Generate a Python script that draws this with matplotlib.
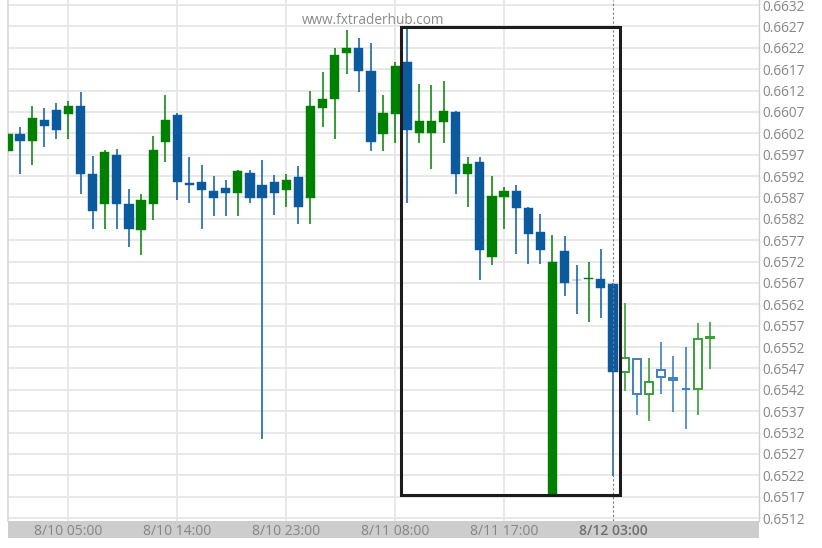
import matplotlib
matplotlib.use("Agg")
import matplotlib.pyplot as plt
from matplotlib.patches import Rectangle
import numpy as np

# ---- data (hourly candles) ----
opens = [0.65978, 0.66019, 0.66003, 0.66052, 0.66074, 0.66066, 0.66084, 0.65925, 0.65854, 0.65970,
         0.65854, 0.65793, 0.65854, 0.65999, 0.66062, 0.65903, 0.65905, 0.65885, 0.65893, 0.65881,
         0.65928, 0.65899, 0.65906, 0.65887, 0.65918, 0.65868, 0.66079, 0.66100, 0.66208, 0.66219,
         0.66165, 0.66018, 0.66066, 0.66186, 0.66020, 0.66020, 0.66047, 0.66069, 0.65925, 0.65954,
         0.65731, 0.65872, 0.65884, 0.65845, 0.65790, 0.65176, 0.65744, 0.65678, 0.65680, 0.65679,
         0.65668, 0.65462, 0.65492, 0.65411, 0.65466, 0.65448, 0.65422, 0.65422, 0.65542]
highs = [0.66022, 0.66035, 0.66083, 0.66080, 0.66090, 0.66096, 0.66117, 0.65968, 0.65980, 0.65983,
         0.65889, 0.65879, 0.66014, 0.66110, 0.66068, 0.65964, 0.65946, 0.65920, 0.65911, 0.65934,
         0.65934, 0.65957, 0.65923, 0.65924, 0.65943, 0.66120, 0.66163, 0.66220, 0.66262, 0.66242,
         0.66232, 0.66110, 0.66188, 0.66268, 0.66136, 0.66132, 0.66143, 0.66072, 0.65964, 0.65964,
         0.65920, 0.65895, 0.65899, 0.65847, 0.65831, 0.65783, 0.65779, 0.65712, 0.65720, 0.65749,
         0.65670, 0.65623, 0.65492, 0.65495, 0.65531, 0.65498, 0.65520, 0.65576, 0.65578]
lows = [0.65975, 0.65926, 0.65946, 0.65988, 0.66007, 0.66007, 0.65878, 0.65797, 0.65797, 0.65797,
        0.65755, 0.65735, 0.65817, 0.65954, 0.65865, 0.65856, 0.65797, 0.65826, 0.65826, 0.65826,
        0.65856, 0.65305, 0.65830, 0.65847, 0.65807, 0.65807, 0.66035, 0.66007, 0.66159, 0.66117,
        0.65978, 0.65978, 0.65997, 0.65856, 0.65997, 0.65937, 0.65997, 0.65878, 0.65847, 0.65677,
        0.65711, 0.65797, 0.65738, 0.65715, 0.65715, 0.65174, 0.65639, 0.65597, 0.65578, 0.65587,
        0.65219, 0.65418, 0.65362, 0.65348, 0.65410, 0.65369, 0.65328, 0.65362, 0.65469]
closes = [0.66019, 0.66003, 0.66055, 0.66037, 0.66029, 0.66083, 0.65925, 0.65839, 0.65977, 0.65854,
          0.65797, 0.65864, 0.65980, 0.66052, 0.65906, 0.65900, 0.65887, 0.65868, 0.65881, 0.65932,
          0.65868, 0.65868, 0.65881, 0.65912, 0.65848, 0.66084, 0.66100, 0.66204, 0.66219, 0.66167,
          0.65999, 0.66068, 0.66178, 0.66028, 0.66049, 0.66049, 0.66072, 0.65925, 0.65948, 0.65747,
          0.65873, 0.65884, 0.65845, 0.65784, 0.65747, 0.65720, 0.65669, 0.65676, 0.65682, 0.65657,
          0.65462, 0.65494, 0.65410, 0.65438, 0.65450, 0.65444, 0.65421, 0.65540, 0.65544]

tick_positions = [5, 14, 23, 32, 41, 50]
tick_labels = ["8/10 05:00", "8/10 14:00", "8/10 23:00", "8/11 08:00", "8/11 17:00", "8/12 03:00"]
y_ticks = [round(0.6512 + 0.0005 * k, 4) for k in range(25)]

pattern_start, pattern_end = 33, 50   # highlighted range
last_closed = 50                      # candles after this are drawn hollow

watermark = "www.fxtraderhub.com"

# ---- style ----
GREEN = "#008000"
BLUE = "#0b5a9e"
GREEN_H = "#3a9e3a"
BLUE_H = "#3f80c0"
GRID = "#e6e6e6"
TXT = "#858585"
FONT = ["Open Sans", "DejaVu Sans"]

W, H = 822, 548
fig = plt.figure(figsize=(W / 100, H / 100), dpi=100)
left_px, right_px, top_px, bottom_px = 8.3, 759.0, 0.0, 521.0
ax = fig.add_axes([left_px / W, 1 - bottom_px / H, (right_px - left_px) / W, (bottom_px - top_px) / H])
ax.set_zorder(2)
ax.patch.set_alpha(0)

# gray x-axis band (behind the axes so tick labels stay visible)
band = Rectangle((left_px / W, 1 - 538 / H), (right_px - left_px) / W, 17 / H,
                 transform=fig.transFigure, facecolor="#cdcdcd", edgecolor="none", zorder=1)
fig.patches.append(band)

ax.set_xlim(0.03, 62.07)
ax.set_ylim(0.65113, 0.66332)

for y in y_ticks:
    ax.axhline(y, color=GRID, lw=1.3, zorder=0)
for x in tick_positions[:-1]:
    ax.axvline(x, color=GRID, lw=1.3, zorder=0)

bw = 0.76
for i, (o, h, l, c) in enumerate(zip(opens, highs, lows, closes)):
    up = c >= o
    lo_b, hi_b = min(o, c), max(o, c)
    hollow = i > last_closed
    if hollow:
        col = GREEN_H if up else BLUE_H
        ax.plot([i, i], [l, lo_b], color=col, lw=1.2, zorder=2, solid_capstyle="butt")
        ax.plot([i, i], [hi_b, h], color=col, lw=1.2, zorder=2, solid_capstyle="butt")
        ax.add_patch(Rectangle((i - bw / 2 + 0.05, lo_b), bw - 0.1, max(hi_b - lo_b, 0.000001),
                               facecolor="white", edgecolor=col, lw=1.4, zorder=3))
    else:
        col = GREEN if up else BLUE
        ax.plot([i, i], [l, h], color=col, lw=1.1, zorder=2, solid_capstyle="butt")
        ax.add_patch(Rectangle((i - bw / 2, lo_b), bw, max(hi_b - lo_b, 0.000012),
                               facecolor=col, edgecolor=col, lw=0.3, zorder=3))

# highlighted pattern box
box_top = max(highs[pattern_start:pattern_end + 1])
box_bot = min(lows[pattern_start:pattern_end + 1])
ax.add_patch(Rectangle((pattern_start - 0.5, box_bot), pattern_end - pattern_start + 1.05, box_top - box_bot,
                       facecolor="none", edgecolor="#1c1c1c", lw=2.2, zorder=5))
ax.axvline(last_closed, color="#7a7a7a", lw=0.8, ls=(0, (2, 2)), zorder=4)

# axes styling
for s in ["top", "bottom"]:
    ax.spines[s].set_visible(False)
ax.spines["left"].set_color("#d8d8d8")
ax.spines["right"].set_color("#d0d0d0")
ax.spines["left"].set_linewidth(1.2)
ax.spines["right"].set_linewidth(1.0)

ax.yaxis.tick_right()
ax.set_yticks(y_ticks)
ax.set_yticklabels([f"{v:.4f}" for v in y_ticks])
ax.set_xticks(tick_positions)
ax.set_xticklabels(tick_labels)
ax.tick_params(axis="y", length=0, pad=2.5, labelsize=9.8, labelcolor=TXT)
ax.tick_params(axis="x", length=0, pad=2.0, labelsize=10.0, labelcolor=TXT)
for lab in ax.get_xticklabels() + ax.get_yticklabels():
    lab.set_family(FONT)
last_lab = ax.get_xticklabels()[-1]
last_lab.set_fontweight("semibold")
last_lab.set_color("#6e6e6e")

fig.text(373 / W, 1 - 21 / H, watermark, ha="center", va="center", fontsize=9.8,
         color="#8a8a8a", family=FONT, zorder=10)

fig.savefig("out.png", dpi=100, facecolor="white")
